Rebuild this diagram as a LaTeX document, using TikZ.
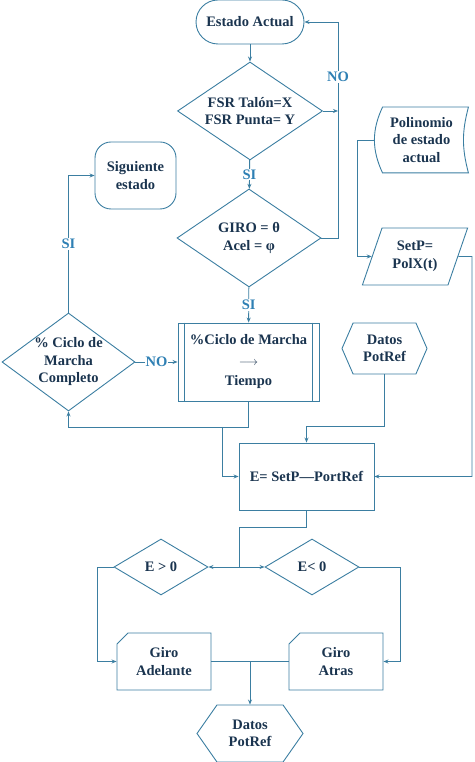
\documentclass[tikz,border=0pt]{standalone}
\usepackage{fontspec}
\setmainfont{Liberation Serif}
\usetikzlibrary{shapes.geometric}
\usetikzlibrary{shapes.misc}
\usetikzlibrary{shapes.symbols}
\usetikzlibrary{arrows.meta}
\definecolor{trazo}{HTML}{3B7EA1}
\definecolor{texto}{HTML}{1A344F}
\definecolor{etiq}{HTML}{2F80B4}

\begin{document}
\begin{tikzpicture}[x=1pt,y=1pt,
  base/.style={draw=trazo, line width=.9pt, text=texto, font=\f, align=center, inner sep=0pt},
  caja/.style={base, rectangle},
  dec/.style={base, diamond},
  hexa/.style={base, signal, signal to=east and west},
  tarj/.style={base, chamfered rectangle, chamfered rectangle corners=north west},
  conec/.style={draw=trazo, line width=.9pt},
  flecha/.style={conec, -{Stealth[length=\l, width=\w]}},
  resp/.style={text=etiq, font=\f, fill=white, inner sep=1pt},
  every label/.style={text=texto, font=\f, align=center}]
\def\l{5pt}
\def\w{4pt}
\def\f{\bfseries\fontsize{14.5}{17.5}\selectfont}
\useasboundingbox (0,0) rectangle (474,762);

% bloques
\node [caja, rounded corners=22pt, minimum width=108pt, minimum height=44pt, name=est] at (250,740) {Estado Actual};
\node [dec, minimum width=145pt, minimum height=98pt, name=fsr, label=center:{FSR Talón=X\\FSR Punta= Y}] at (250,651) {};
\node [dec, minimum width=144pt, minimum height=98pt, name=giro, label=center:{GIRO = θ\\Acel = φ}] at (249,524) {};
\node [caja, minimum width=141pt, minimum height=78pt, name=mar] at (248.5,400) {\%Ciclo de Marcha\\[3pt]{\fontsize{12}{14}\selectfont$\longrightarrow$}\\[3pt]Tiempo};
\draw [conec] ([xshift=7pt]mar.north west) -- ([xshift=7pt]mar.south west);
\draw [conec] ([xshift=-7pt]mar.north east) -- ([xshift=-7pt]mar.south east);
\node [caja, rounded corners=16pt, minimum width=81pt, minimum height=67pt, name=sig] at (135.5,586.5) {Siguiente\\estado};
\node [dec, minimum width=133pt, minimum height=98pt, name=comp, label=center:{\% Ciclo de\\Marcha\\Completo}] at (68.5,400) {};
\node [base, draw=none, minimum width=93pt, minimum height=65pt, name=pol] at (421.5,622) {Polinomio\\de estado\\actual};
\draw [conec] ([xshift=8pt]pol.north west) -- (pol.north east) to[out=-105,in=105] (pol.south east)
  -- ([xshift=8pt]pol.south west) to[out=115,in=-115] cycle;
\node [base, trapezium, trapezium left angle=66, trapezium right angle=114, trapezium stretches=true, minimum width=106pt, minimum height=57pt, name=setp] at (415,505.5) {SetP=\\PolX(t)};
\node [hexa, signal pointer angle=133, minimum width=85pt, minimum height=51pt, name=dat1] at (384.5,413.5) {Datos\\PotRef};
\node [caja, minimum width=135pt, minimum height=67pt, name=err] at (306.5,285.5) {E= SetP—PortRef};
\node [dec, minimum width=94pt, minimum height=56pt, name=emay] at (161,195) {E > 0};
\node [dec, minimum width=94pt, minimum height=56pt, name=emen] at (312,195) {E< 0};
\node [tarj, chamfered rectangle xsep=8pt, minimum width=94pt, minimum height=57pt, name=gad] at (164,100.5) {Giro\\Adelante};
\node [tarj, chamfered rectangle xsep=8pt, minimum width=94pt, minimum height=57pt, name=gat] at (336,100.5) {Giro\\Atras};
\node [hexa, signal pointer angle=110, minimum width=106pt, minimum height=57pt, name=dat2] at (250,28.5) {Datos\\PotRef};

% puntos de paso
\coordinate (no1) at (338,651);
\coordinate (r1) at (338,740);
\coordinate (b1) at (248.5,335);
\coordinate (b2) at (222,335);
\coordinate (d1) at (384.5,336);
\coordinate (p1) at (357,622);
\coordinate (s1) at (472,505.5);
\coordinate (e1) at (239,235);
\coordinate (j) at (239,195);
\coordinate (g1) at (97,195);
\coordinate (g2) at (400,195);
\coordinate (m) at (250,100.5);

% conexiones
\draw [flecha] (est) -- (fsr);
\draw [flecha] (fsr) -- node[resp]{SI} (giro);
\draw [flecha] (giro.east) -| (r1) -- (est.east);
\node [resp, name=no2] at (338,685) {NO};
\draw [flecha] (fsr.east) -- (no1);
\draw [flecha] (giro) -- node[resp]{SI} (mar);
\draw [flecha] (comp) -- node[resp]{NO} (mar);
\draw [flecha] (comp.north) |- node[resp, pos=.25]{SI} (sig.west);
\draw [flecha] (mar.south) -- (b1) -| (comp.south);
\draw [flecha] (b2) |- (err.west);
\draw [flecha] (dat1.south) -- (d1) -| (err.north);
\draw [flecha] (pol.west) -- (p1) |- (setp.west);
\draw [flecha] (setp.east) -- (s1) |- (err.east);
\draw [conec] (err.south) |- (e1) -- (j);
\draw [flecha] (j) -- (emay.east);
\draw [flecha] (j) -- (emen.west);
\draw [flecha] (emay.west) -- (g1) |- (gad.west);
\draw [flecha] (emen.east) -- (g2) |- (gat.east);
\draw [conec] (gad.east) -- (m);
\draw [conec] (gat.west) -- (m);
\draw [flecha] (m) -- (dat2.north);
\end{tikzpicture}
\end{document}
